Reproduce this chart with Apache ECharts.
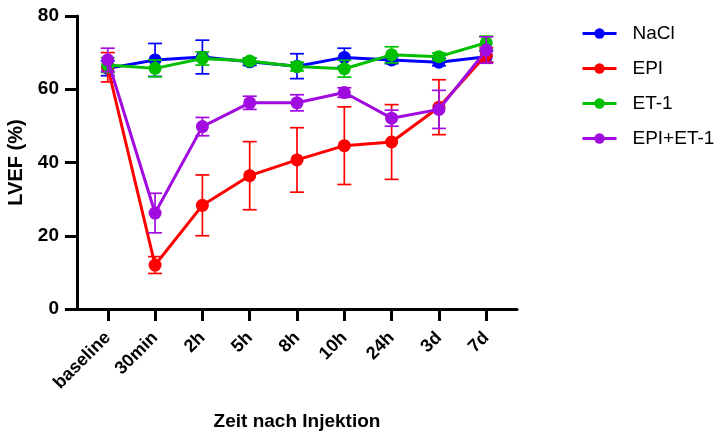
<!DOCTYPE html>
<html><head><meta charset="utf-8">
<script src="https://cdn.jsdelivr.net/npm/echarts@6/dist/echarts.min.js"></script>
<style>html,body{margin:0;padding:0;background:#fff}#c{width:718px;height:435px}</style>
</head><body><div id="c"></div>
<script>
const categories = ['baseline','30min','2h','5h','8h','10h','24h','3d','7d'];
const yTicks = [0, 20, 40, 60, 80];
const seriesNames = ['NaCl','EPI','ET-1','EPI+ET-1'];
const colors = ['#0000FF','#FF0000','#00C000','#A00BE0'];
const naclMean = [65.7, 68.0, 68.8, 67.5, 66.3, 68.7, 68.0, 67.4, 68.9];
const naclErr  = [2.0, 4.5, 4.6, 1.0, 3.4, 2.5, 1.0, 1.0, 1.5];
const epiMean  = [66.0, 12.0, 28.3, 36.4, 40.7, 44.6, 45.6, 55.1, 69.4];
const epiErr   = [4.0, 2.3, 8.3, 9.3, 8.8, 10.6, 10.2, 7.5, 2.0];
const et1Mean  = [66.6, 65.7, 68.4, 67.7, 66.2, 65.6, 69.4, 68.9, 72.7];
const et1Err   = [2.0, 2.3, 1.8, 0.8, 1.2, 2.3, 2.2, 1.0, 1.8];
const comboMean= [68.0, 26.2, 49.8, 56.3, 56.3, 59.1, 52.1, 54.5, 70.7];
const comboErr = [3.2, 5.4, 2.5, 1.8, 2.2, 1.3, 2.2, 5.2, 3.6];

const means = [naclMean, epiMean, et1Mean, comboMean];
const errs = [naclErr, epiErr, et1Err, comboErr];
const font = 'Liberation Sans, Arial, sans-serif';

const series = [];
means.forEach((m, si) => {
  series.push({
    type: 'custom', name: seriesNames[si] + '_err', z: 2 + si*2,
    silent: true,
    data: m.map((v, i) => [i, v - errs[si][i], v + errs[si][i]]),
    renderItem: function (params, api) {
      const x = api.value(0);
      const lo = api.coord([x, api.value(1)]);
      const hi = api.coord([x, api.value(2)]);
      const w = 7;
      const st = { stroke: colors[si], lineWidth: 1.7 };
      return { type: 'group', children: [
        { type: 'line', shape: { x1: lo[0], y1: lo[1], x2: hi[0], y2: hi[1] }, style: st },
        { type: 'line', shape: { x1: lo[0]-w, y1: lo[1], x2: lo[0]+w, y2: lo[1] }, style: st },
        { type: 'line', shape: { x1: hi[0]-w, y1: hi[1], x2: hi[0]+w, y2: hi[1] }, style: st }
      ]};
    }
  });
  series.push({
    type: 'line', name: seriesNames[si], z: 3 + si*2,
    data: m.map((v, i) => [i, v]),
    symbol: 'circle', symbolSize: 13,
    lineStyle: { color: colors[si], width: 3 },
    itemStyle: { color: colors[si] },
    emphasis: { disabled: true }
  });
});

const chart = echarts.init(document.getElementById('c'), null, { renderer: 'canvas' });
chart.setOption({
  animation: false,
  backgroundColor: '#fff',
  grid: { left: 77, right: 201, top: 16, bottom: 126, containLabel: false, outerBoundsMode: 'none' },
  legend: {
    data: seriesNames,
    orient: 'vertical', left: 581, top: 24, padding: 0,
    itemWidth: 34, itemHeight: 13, itemGap: 16,
    lineStyle: { width: 3 },
    textStyle: { fontFamily: font, fontSize: 19, color: '#000', padding: [0,0,0,11] }
  },
  xAxis: {
    type: 'value', min: -0.65, max: 8.65,
    name: 'Zeit nach Injektion', nameLocation: 'middle', nameGap: 103,
    nameTextStyle: { fontFamily: font, fontSize: 19, fontWeight: 'bold', color: '#000' },
    splitLine: { show: false },
    axisLine: { show: true, onZero: false, lineStyle: { color: '#000', width: 3 } },
    axisTick: { show: true, length: 12, lineStyle: { color: '#000', width: 3 }, customValues: categories.map((c, i) => i) },
    axisLabel: {
      customValues: categories.map((c, i) => i),
      formatter: v => categories[Math.round(v)],
      rotate: 45, margin: 26,
      fontFamily: font, fontSize: 18, fontWeight: 'bold', color: '#000'
    }
  },
  yAxis: {
    type: 'value', min: 0, max: 80, interval: 20,
    name: 'LVEF (%)', nameLocation: 'middle', nameGap: 47,
    nameTextStyle: { fontFamily: font, fontSize: 20, fontWeight: 'bold', color: '#000' },
    splitLine: { show: false },
    axisLine: { show: true, onZero: false, lineStyle: { color: '#000', width: 3 } },
    axisTick: { show: true, length: 12, lineStyle: { color: '#000', width: 3 } },
    axisLabel: { margin: 18, fontFamily: font, fontSize: 19, fontWeight: 'bold', color: '#000',
      formatter: v => yTicks.includes(v) ? String(v) : '' }
  },
  series: series
});
</script></body></html>
